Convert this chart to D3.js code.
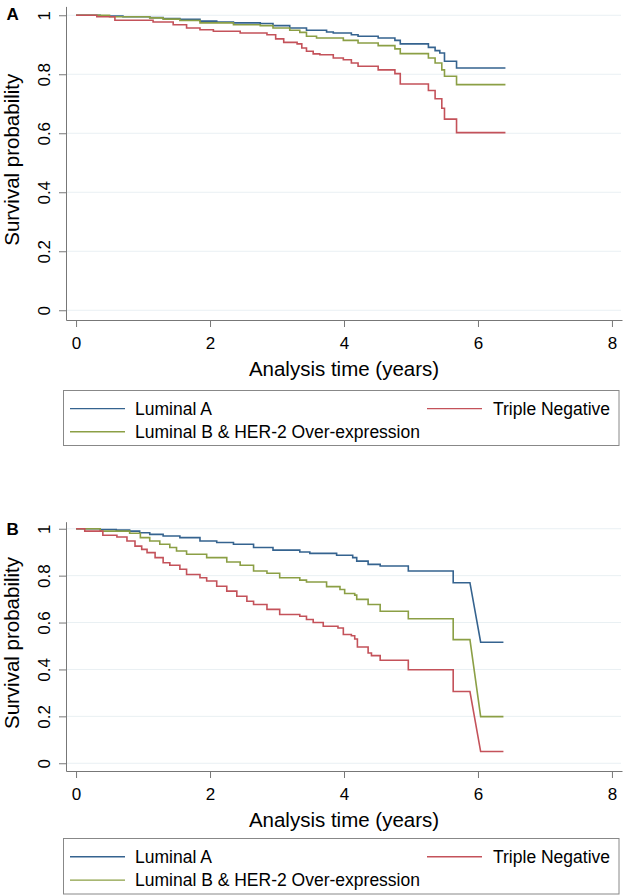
<!DOCTYPE html>
<html><head><meta charset="utf-8">
<script src="https://cdn.jsdelivr.net/npm/d3@7"></script>
<style>
body{margin:0;background:#fff}
svg{display:block}
text{font-family:"Liberation Sans",Arial,Helvetica,sans-serif;fill:#000}
</style>
</head><body>
<svg id="c" width="623" height="895"></svg>
<script>
// ---------------- data ----------------
const xTicks = [0, 2, 4, 6, 8];
const yTicks = [0, 0.2, 0.4, 0.6, 0.8, 1];
const yTickLabels = ["0", "0.2", "0.4", "0.6", "0.8", "1"];
const seriesNames = ["Luminal A", "Luminal B & HER-2 Over-expression", "Triple Negative"];
const seriesColors = ["#35638f", "#8b9f45", "#c4525a"];
const xTitle = "Analysis time (years)";
const yTitle = "Survival probability";

// Kaplan-Meier events: [time, survival after drop, (optional) time drop starts]
const panelA_lumA = [[0,1],[0.36,0.997],[0.7,0.995],[1.1,0.992],[1.3,0.989],[1.55,0.986],[1.85,0.980],[2.1,0.977],[2.35,0.974],[2.75,0.972],[2.94,0.965],[3.19,0.957],[3.44,0.949],[3.74,0.943],[3.84,0.940],[4.11,0.934],[4.21,0.929],[4.51,0.923],[4.76,0.915],[4.84,0.903],[5.26,0.891],[5.36,0.880],[5.43,0.872],[5.50,0.844],[5.68,0.821]];
const panelA_lumB = [[0,1],[0.5,0.995],[1.1,0.991],[1.3,0.987],[1.55,0.982],[1.85,0.974],[2.35,0.968],[2.75,0.965],[2.94,0.957],[3.19,0.949],[3.34,0.942],[3.44,0.929],[3.59,0.923],[3.99,0.915],[4.21,0.906],[4.51,0.897],[4.76,0.886],[4.84,0.870],[5.26,0.855],[5.36,0.838],[5.46,0.815],[5.50,0.793],[5.68,0.765]];
const panelA_tn = [[0,1],[0.31,0.995],[0.58,0.983],[1.15,0.977],[1.45,0.968],[1.65,0.957],[1.85,0.951],[2.05,0.946],[2.45,0.940],[2.85,0.934],[2.98,0.920],[3.1,0.908],[3.3,0.903],[3.37,0.889],[3.44,0.878],[3.54,0.869],[3.64,0.866],[3.84,0.855],[3.99,0.849],[4.11,0.838],[4.21,0.827],[4.51,0.815],[4.76,0.802],[4.84,0.767],[5.26,0.745],[5.36,0.717],[5.46,0.685],[5.50,0.648],[5.68,0.602]];
const panelB_lumA = [[0,1],[0.36,0.997],[0.6,0.994],[0.8,0.990],[0.95,0.983],[1.1,0.976],[1.3,0.969],[1.55,0.962],[1.85,0.948],[2.1,0.941],[2.35,0.934],[2.65,0.920],[2.94,0.909],[3.34,0.901],[3.49,0.895],[3.89,0.887],[4.13,0.877],[4.19,0.862],[4.36,0.848],[4.54,0.841],[4.96,0.820],[5.63,0.770],[6.04,0.516,5.88]];
const panelB_lumB = [[0,1],[0.36,0.990],[0.8,0.981],[0.96,0.962],[1.1,0.948],[1.25,0.934],[1.4,0.920],[1.5,0.905],[1.65,0.891],[1.95,0.877],[2.25,0.858],[2.45,0.844],[2.65,0.820],[2.85,0.810],[3.04,0.791],[3.34,0.781],[3.44,0.773],[3.74,0.753],[3.94,0.741],[4.01,0.724],[4.16,0.717],[4.19,0.699],[4.36,0.677],[4.54,0.648],[4.96,0.616],[5.63,0.527],[6.04,0.199,5.88]];
const panelB_tn = [[0,1],[0.13,0.990],[0.4,0.972],[0.61,0.965],[0.76,0.948],[0.88,0.926],[0.98,0.912],[1.06,0.898],[1.18,0.877],[1.3,0.855],[1.4,0.844],[1.55,0.827],[1.65,0.805],[1.85,0.791],[1.95,0.777],[2.1,0.755],[2.25,0.734],[2.4,0.712],[2.55,0.691],[2.65,0.677],[2.85,0.656],[3.04,0.634],[3.34,0.627],[3.44,0.613],[3.54,0.600],[3.69,0.584],[3.91,0.577],[3.99,0.549],[4.11,0.544],[4.16,0.530],[4.2,0.496],[4.36,0.470],[4.41,0.459],[4.54,0.439],[4.96,0.399],[5.63,0.306],[6.04,0.050,5.88]];
const followUpA = 6.41;
const followUpB = 6.38;

// ---------------- drawing ----------------
const svg = d3.select("#c");
const FONT = '"Liberation Sans",Arial,Helvetica,sans-serif';

function vertices(events, tEnd) {
  const pts = [];
  let prev = null;
  events.forEach(e => {
    const [t, s, t0] = e;
    if (prev === null) pts.push([t, s]);
    else if (t0 !== undefined) { pts.push([t0, prev]); pts.push([t, s]); }
    else { pts.push([t, prev]); pts.push([t, s]); }
    prev = s;
  });
  pts.push([tEnd, prev]);
  return pts;
}

const panels = [
  {label: "A", top: 6.4, bottom: 320, legTop: 390.5, legBottom: 445.5, series: [panelA_lumA, panelA_lumB, panelA_tn], tEnd: followUpA},
  {label: "B", top: 521.7, bottom: 771, legTop: 838.5, legBottom: 894, series: [panelB_lumA, panelB_lumB, panelB_tn], tEnd: followUpB}
];

panels.forEach(p => {
  const g = svg.append("g");
  const x = d3.scaleLinear().domain([-0.15, 8.15]).range([66, 622]);
  const y = d3.scaleLinear().domain([-0.033, 1.03]).range([p.bottom, p.top]);

  // grid
  g.append("g").selectAll("line").data(yTicks).join("line")
    .attr("x1", 66).attr("x2", 621)
    .attr("y1", d => y(d)).attr("y2", d => y(d))
    .attr("stroke", "#e9f0f3").attr("stroke-width", 1);

  // y axis
  const ya = g.append("g").attr("transform", "translate(66,0)")
    .call(d3.axisLeft(y).tickValues(yTicks).tickSize(7).tickSizeOuter(0)
      .tickFormat((d, i) => yTickLabels[i]));
  ya.selectAll("text")
    .attr("transform", "rotate(-90)").attr("x", 0).attr("y", -16).attr("dy", 0)
    .style("text-anchor", "middle").style("font-size", "17px").style("font-family", FONT).attr("fill", "#000");
  ya.selectAll("path,line").attr("stroke", "#777");

  // x axis
  const xa = g.append("g").attr("transform", `translate(0,${p.bottom})`)
    .call(d3.axisBottom(x).tickValues(xTicks).tickSize(7).tickSizeOuter(0));
  xa.selectAll("text").attr("y", 28.5).attr("dy", 0)
    .style("font-size", "17px").style("font-family", FONT).attr("fill", "#000");
  xa.selectAll("path,line").attr("stroke", "#777");

  // titles
  g.append("text").attr("x", x(4)).attr("y", p.bottom + 56)
    .attr("text-anchor", "middle").style("font-size", "20.5px").text(xTitle);
  const yc = (y(0) + y(1)) / 2 - 3;
  g.append("text").attr("transform", `translate(18.5,${yc}) rotate(-90)`)
    .attr("text-anchor", "middle").style("font-size", "20.5px").text(yTitle);
  g.append("text").attr("x", 6.5).attr("y", p.top + 13.5)
    .style("font-size", "17px").style("font-weight", "bold").text(p.label);

  // curves
  const line = d3.line().x(d => x(d[0])).y(d => y(d[1]));
  p.series.forEach((s, i) => {
    g.append("path").datum(vertices(s, p.tEnd)).attr("d", line)
      .attr("fill", "none").attr("stroke", seriesColors[i]).attr("stroke-width", 1.6)
      .attr("stroke-linejoin", "miter");
  });

  // legend
  g.append("rect").attr("x", 63.5).attr("y", p.legTop)
    .attr("width", 555.5).attr("height", p.legBottom - p.legTop)
    .attr("fill", "none").attr("stroke", "#888").attr("stroke-width", 1);
  const rowH = (p.legBottom - p.legTop);
  const rows = [p.legTop + rowH * 0.33, p.legTop + rowH * 0.75];
  const items = [
    {i: 0, kx: 70, tx: 135, ry: rows[0]},
    {i: 2, kx: 427, tx: 493, ry: rows[0]},
    {i: 1, kx: 70, tx: 135, ry: rows[1]}
  ];
  items.forEach(it => {
    g.append("line").attr("x1", it.kx).attr("x2", it.kx + 55)
      .attr("y1", it.ry).attr("y2", it.ry)
      .attr("stroke", seriesColors[it.i]).attr("stroke-width", 1.4);
    g.append("text").attr("x", it.tx).attr("y", it.ry + 6.2)
      .style("font-size", "17.5px").text(seriesNames[it.i]);
  });
});
</script>
</body></html>
